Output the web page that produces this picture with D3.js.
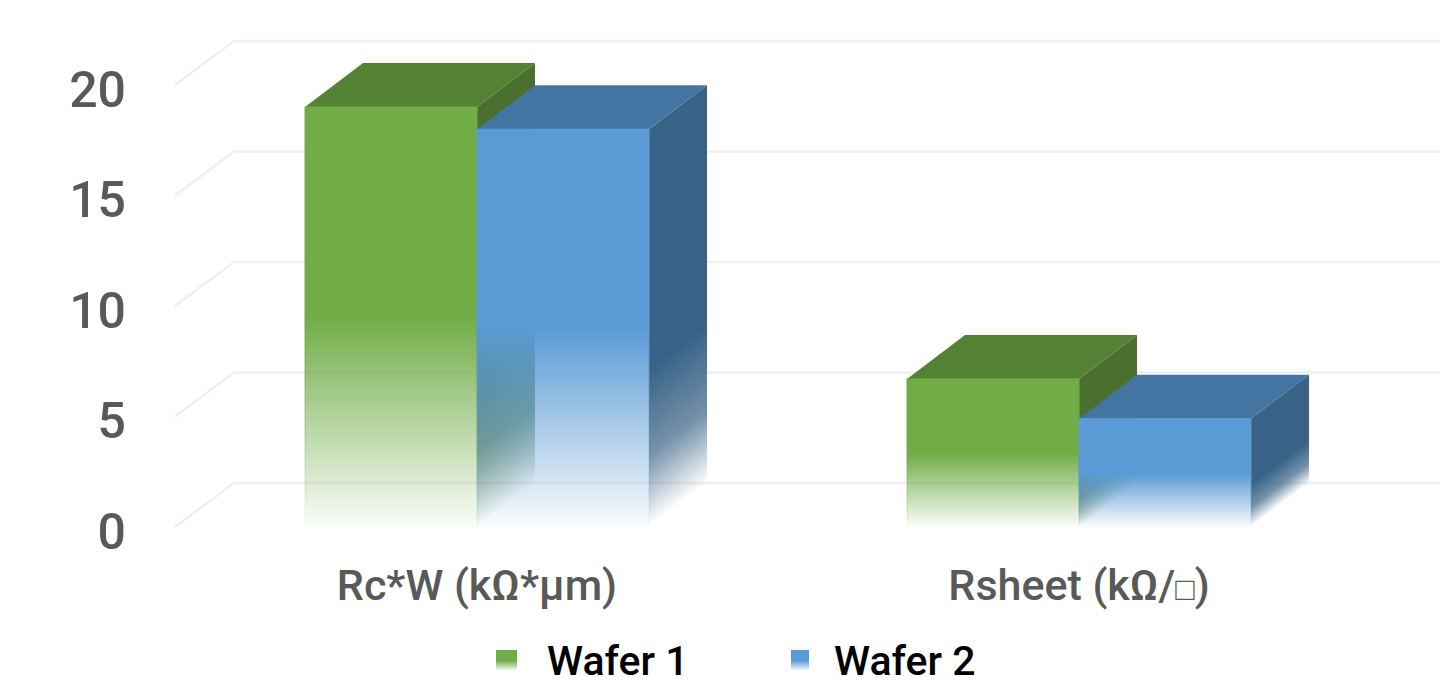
<!DOCTYPE html>
<html>
<head>
<meta charset="utf-8">
<script src="https://cdn.jsdelivr.net/npm/d3@7"></script>
<style>
  html, body { margin: 0; padding: 0; background: #fff; }
  svg { display: block; font-family: Roboto, sans-serif; }
</style>
</head>
<body>
<svg id="chart" width="1451" height="685"></svg>
<script>
const categories = ["Rc*W (kΩ*µm)", "Rsheet (kΩ/□)"];
const seriesNames = ["Wafer 1", "Wafer 2"];
const wafer1 = [19.0, 6.7];
const wafer2 = [18.0, 4.9];
const yTicks = [0, 5, 10, 15, 20];

const palette = [
  { front: "#70ad47", top: "#548235", side: "#4a6f2f" },
  { front: "#5b9bd5", top: "#4474a1", side: "#386286" }
];

// Oblique projection of the depth axis
const depthX = 58, depthY = -44;

const svg = d3.select("#chart");
const defs = svg.append("defs");

const y = d3.scaleLinear().domain([0, 20]).range([527, 85]);

// Gridlines: a slanted run on the side wall and a long run on the back wall
const grid = svg.append("g");
grid.selectAll("path").data(yTicks).join("path")
  .attr("fill", "none")
  .attr("stroke", "#f0f0f0")
  .attr("stroke-width", 2.4)
  .attr("d", v => {
    const p = d3.path();
    p.moveTo(175, y(v));
    p.lineTo(175 + depthX + 1, y(v) + depthY);
    p.lineTo(1440, y(v) + depthY);
    return p.toString();
  });

// Value axis
const axis = d3.axisLeft(y).tickValues(yTicks).tickSize(0).tickPadding(0);
const axisG = svg.append("g").attr("transform", "translate(126,5)").call(axis);
axisG.select(".domain").remove();
axisG.selectAll("text")
  .attr("fill", "#595959")
  .attr("font-family", "Roboto, sans-serif")
  .attr("font-size", 50)
  .attr("font-weight", 500);

// Fading fill between two points, with opacity stops along the way
function fade(id, color, x1, y1, x2, y2, stops) {
  const g = defs.append("linearGradient").attr("id", id)
    .attr("gradientUnits", "userSpaceOnUse")
    .attr("x1", x1).attr("y1", y1).attr("x2", x2).attr("y2", y2);
  stops.forEach(([offset, opacity]) => {
    g.append("stop").attr("offset", offset).attr("stop-color", color).attr("stop-opacity", opacity);
  });
  return `url(#${id})`;
}

const barWidth = 172;
const groupLeft = d3.scaleOrdinal().domain(categories).range([305, 907]);
const seriesValues = [wafer1, wafer2];
const base = y(0);

const bars = [];
categories.forEach((c, ci) => {
  seriesNames.forEach((s, si) => {
    bars.push({ ci, si, value: seriesValues[si][ci], left: groupLeft(c) + si * barWidth });
  });
});

const barG = svg.append("g");
bars.forEach((b, i) => {
  const colors = palette[b.si];
  const top = y(b.value);
  const right = b.left + barWidth;
  const frontSolid = top + (base - top) * 0.5;
  const sideSolid = top + (base - top) * 0.6;

  // Side face fades along lines parallel to its own sheared floor edge
  const len = Math.hypot(depthX, depthY);
  const nx = -depthY / len, ny = depthX / len;
  const dist = (base - sideSolid) * ny;
  const sideFill = fade(`side${i}`, colors.side, right, sideSolid, right + nx * dist, sideSolid + ny * dist,
    [[0, 1], [0.55, 0.7], [1, 0]]);
  const frontFill = fade(`front${i}`, colors.front, 0, frontSolid, 0, base,
    [[0, 1], [1, 0.03]]);

  const poly = pts => d3.line()(pts) + "Z";

  barG.append("path").attr("fill", sideFill).attr("d", poly([
    [right, top], [right + depthX, top + depthY], [right + depthX, base + depthY], [right, base]
  ]));
  barG.append("path").attr("fill", colors.top).attr("d", poly([
    [b.left, top], [b.left + depthX, top + depthY], [right + depthX, top + depthY], [right, top]
  ]));
  barG.append("rect").attr("fill", frontFill)
    .attr("stroke", frontFill).attr("stroke-width", 1)
    .attr("x", b.left).attr("y", top)
    .attr("width", barWidth).attr("height", base - top);
});

// Category labels; the square in the sheet-resistance unit sets smaller
const labelG = svg.append("g").selectAll("text").data(categories).join("text")
  .attr("x", c => groupLeft(c) + barWidth)
  .attr("y", 600)
  .attr("text-anchor", "middle")
  .attr("fill", "#595959")
  .attr("font-size", 43)
  .attr("font-weight", 500);
labelG.each(function (c) {
  const t = d3.select(this);
  c.split(/(□)/).filter(Boolean).forEach(part => {
    t.append("tspan").attr("font-size", part === "□" ? 32 : null).text(part);
  });
});

// Legend
const legendX = [496, 791], legendW = [21, 18], textX = [547, 834];
seriesNames.forEach((s, i) => {
  const lg = defs.append("linearGradient").attr("id", `legend${i}`).attr("x1", 0).attr("y1", 0).attr("x2", 0).attr("y2", 1);
  lg.append("stop").attr("offset", 0.5).attr("stop-color", palette[i].front);
  lg.append("stop").attr("offset", 1).attr("stop-color", palette[i].front).attr("stop-opacity", 0);
  svg.append("rect").attr("x", legendX[i]).attr("y", 650).attr("width", legendW[i]).attr("height", 21)
    .attr("fill", `url(#legend${i})`);
  svg.append("text").attr("x", textX[i]).attr("y", 675)
    .attr("fill", "#000").attr("font-size", 41).attr("font-weight", 500).text(s);
});
</script>
</body>
</html>
